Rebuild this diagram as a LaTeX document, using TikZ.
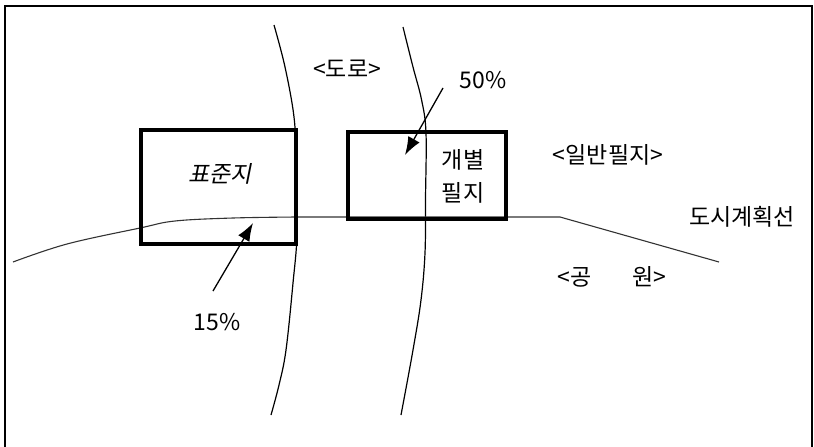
\documentclass[tikz,border=0pt]{standalone}
\usepackage{fontspec}
\setmainfont{Noto Sans CJK KR}
\newfontfamily\slantfont[FakeSlant=0.2]{Noto Sans CJK KR}
\usetikzlibrary{positioning, arrows.meta}

\begin{document}
\begin{tikzpicture}[
  x=1pt, y=-1pt,
  font=\fontsize{23}{28}\selectfont,
  lot/.style={draw=black, line width=3.5pt, inner sep=0pt},
  road/.style={line width=1.2pt},
  planline/.style={line width=1.1pt, draw=black!80},
  arrow/.style={-{Latex[length=18pt, width=13pt]}, line width=1.3pt},
  lbl/.style={inner sep=0pt}
]

\useasboundingbox (0,0) rectangle (814,447);
\draw[line width=1.5pt] (5,447) -- (5,6) -- (812,6) -- (812,447);

% two roads
\draw[road] plot[smooth, tension=0.6] coordinates {(274,25) (285,67) (294,117) (296,160) (297,233) (293,283) (286,350) (279,385) (271,415)};
\draw[road] plot[smooth, tension=0.6] coordinates {(403,27) (413,67) (421.6,100) (426,133) (425.5,200) (425,253) (421,300) (413,350) (401,415)};

% city planning line
\draw[planline] plot[smooth, tension=0.6] coordinates {(13,262) (67,244) (140,228) (175,221) (233,218) (297,217)} -- (560,217) -- (719,262);

% parcels
\node[lot, minimum width=155pt, minimum height=114pt] (stdlot) at (218.5,187) {};
\node[lot, minimum width=158pt, minimum height=87pt] (indivlot) at (427,175.5) {};

\node[lbl] (stdname) at (220,174) {\slantfont 표준지};
\node[lbl, align=center, font=\fontsize{23}{33}\selectfont] (indivname) at (463,176) {개별\\필지};

\node[lbl] (road) at (347,69) {<도로>};
\node[lbl] (general) at (608,155) {<일반필지>};
\node[lbl] (planname) at (742,217) {도시계획선};
\node[lbl] (park) at (612,277) {<공\hspace{1.8em}원>};

% ratios
\node[lbl] (pct15) at (217,322) {15\%};
\node[lbl] (pct50) at (483,80) {50\%};
\coordinate (tail15) at (213,291);
\coordinate (tip15) at (253,223);
\coordinate (tail50) at (443,88);
\coordinate (tip50) at (405,155);

\draw[arrow] (tail15) -- (tip15);
\draw[arrow] (tail50) -- (tip50);

\end{tikzpicture}
\end{document}
